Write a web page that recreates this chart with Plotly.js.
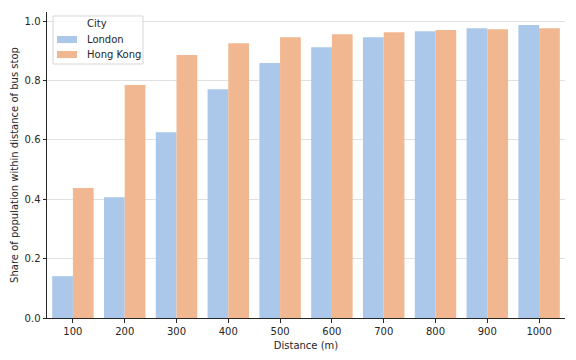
<!DOCTYPE html>
<html>
<head>
<meta charset="utf-8">
<script src="https://cdn.plot.ly/plotly-3.0.1.min.js"></script>
<style>html,body{margin:0;padding:0;background:#fff;}#chart{width:576px;height:360px;}</style>
</head>
<body>
<div id="chart"></div>
<script>
const distances = ["100","200","300","400","500","600","700","800","900","1000"];
const london = [0.141, 0.407, 0.626, 0.771, 0.859, 0.912, 0.946, 0.966, 0.976, 0.987];
const hongKong = [0.438, 0.785, 0.886, 0.926, 0.946, 0.956, 0.963, 0.970, 0.973, 0.976];
const yTicks = [0, 0.2, 0.4, 0.6, 0.8, 1.0];
const yTickText = ["0.0", "0.2", "0.4", "0.6", "0.8", "1.0"];
const seriesNames = ["London", "Hong Kong"];
const seriesColors = ["#abc8eb", "#f0b790"];

const txt = {family: "DejaVu Sans", size: 10, color: "#262626"};
const data = [
  {type: "bar", name: seriesNames[0], x: distances, y: london, marker: {color: seriesColors[0]}},
  {type: "bar", name: seriesNames[1], x: distances, y: hongKong, marker: {color: seriesColors[1]}}
];

// custom legend (matplotlib style)
const shapes = [
  {type: "rect", xref: "paper", yref: "paper", x0: 0.0116, x1: 0.1853, y0: 0.830, y1: 0.987,
   line: {color: "#d6d6d6", width: 1}, fillcolor: "rgba(255,255,255,0.8)", layer: "above"}
];
const annotations = [
  {xref: "paper", yref: "paper", x: 0.0965, y: 0.961, text: "City", showarrow: false,
   xanchor: "center", yanchor: "middle", font: txt}
];
const rows = [0.910, 0.861];
seriesNames.forEach((n, i) => {
  shapes.push({type: "rect", xref: "paper", yref: "paper", x0: 0.0193, x1: 0.0579,
    y0: rows[i] - 0.0115, y1: rows[i] + 0.0115, line: {width: 0}, fillcolor: seriesColors[i], layer: "above"});
  annotations.push({xref: "paper", yref: "paper", x: 0.0734, y: rows[i], text: n, showarrow: false,
    xanchor: "left", yanchor: "middle", font: txt});
});

const layout = {
  width: 576, height: 360,
  margin: {l: 47, r: 11, t: 12, b: 42},
  paper_bgcolor: "#fff", plot_bgcolor: "#fff",
  font: txt,
  barmode: "group", bargap: 0.2, bargroupgap: 0,
  showlegend: false,
  shapes: shapes,
  annotations: annotations,
  xaxis: {
    type: "category", range: [-0.5, 9.5],
    showline: true, linecolor: "#262626", linewidth: 1,
    ticks: "outside", ticklen: 3.5, tickcolor: "#262626",
    showgrid: false, zeroline: false,
    title: {text: "Distance (m)", font: txt, standoff: 6}
  },
  yaxis: {
    range: [0, 1.031],
    tickvals: yTicks, ticktext: yTickText,
    showline: true, linecolor: "#262626", linewidth: 1,
    ticks: "outside", ticklen: 3.5, tickcolor: "#262626",
    showgrid: true, gridcolor: "#e0e0e0", gridwidth: 1, zeroline: false,
    title: {text: "Share of population within distance of bus stop", font: txt, standoff: 4}
  }
};
Plotly.newPlot("chart", data, layout, {displayModeBar: false, staticPlot: true});
</script>
</body>
</html>
